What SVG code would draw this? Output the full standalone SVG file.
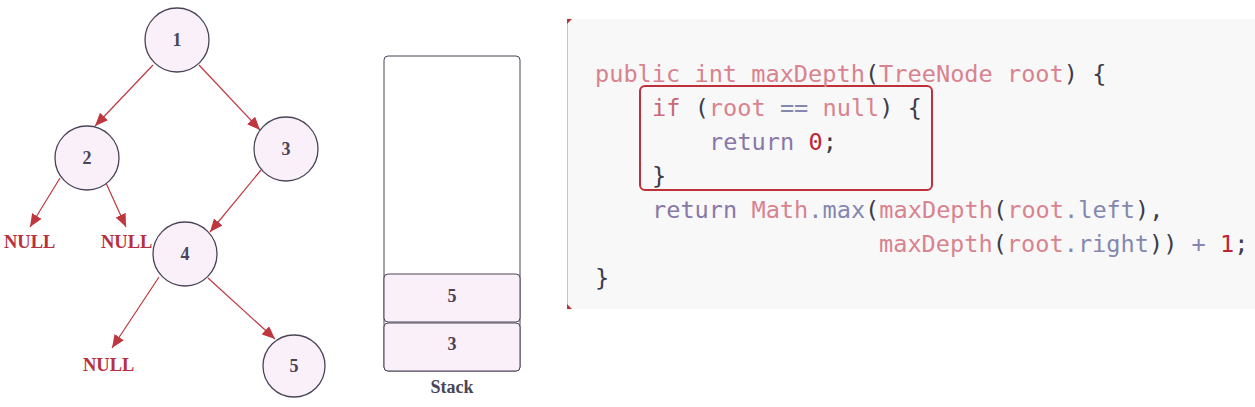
<svg xmlns="http://www.w3.org/2000/svg" width="1255" height="407" viewBox="0 0 1255 407">
<style>
  .node circle { fill: #faf0fa; stroke: #4a4458; stroke-width: 1.3; }
  .lbl { font-family: "Liberation Serif", serif; font-weight: bold; font-size: 18px; fill: #4a4458; text-anchor: middle; }
  .null { font-family: "Liberation Serif", serif; font-weight: bold; font-size: 18.5px; fill: #b8303e; }
  .edge { stroke: #c0363f; stroke-width: 1.2; fill: none; marker-end: url(#arr); }
  .cell { fill: #faf0fa; stroke: #4a4458; stroke-width: 1; }
  .code { font-family: "DejaVu Sans Mono", "Liberation Mono", monospace; font-size: 23.6px; fill: #404050; }
  .k { fill: #d8838f; }
  .kw { fill: #c86878; }
  .v { fill: #8878a8; }
  .o { fill: #8488b0; }
  .n { fill: #c02434; }
  .p { fill: #3c3c4c; }
</style>
<defs>
  <marker id="arr" markerUnits="userSpaceOnUse" markerWidth="13" markerHeight="11" refX="13" refY="5.5" orient="auto">
    <path d="M0,0 L13,5.5 L0,11 z" fill="#c0363f"/>
  </marker>
</defs>
<rect width="1255" height="407" fill="#ffffff"/>

<g id="connectors">
  <line class="edge" x1="153" y1="65" x2="95" y2="126"/>
  <line class="edge" x1="199" y1="65" x2="260" y2="130"/>
  <line class="edge" x1="60" y1="178" x2="30" y2="227"/>
  <line class="edge" x1="106" y1="183" x2="126" y2="227"/>
  <line class="edge" x1="261" y1="170" x2="210" y2="232"/>
  <line class="edge" x1="159" y1="277" x2="112" y2="348"/>
  <line class="edge" x1="208" y1="278" x2="275" y2="339"/>
</g>

<g id="node1" class="node"><circle cx="177" cy="40" r="32"/><text class="lbl" x="177" y="46">1</text></g>
<g id="node2" class="node"><circle cx="87" cy="158" r="32"/><text class="lbl" x="87" y="164">2</text></g>
<g id="node3" class="node"><circle cx="286" cy="149" r="32"/><text class="lbl" x="286" y="155">3</text></g>
<g id="node4" class="node"><circle cx="185" cy="254" r="32"/><text class="lbl" x="185" y="260">4</text></g>
<g id="node5" class="node"><circle cx="294" cy="366" r="31"/><text class="lbl" x="294" y="372">5</text></g>
<g id="null1"><text class="null" x="4" y="248">NULL</text></g>
<g id="null2"><text class="null" x="101" y="248">NULL</text></g>
<g id="null3"><text class="null" x="83" y="371">NULL</text></g>

<g id="stack">
  <rect x="384" y="56" width="136" height="315" rx="4" fill="#ffffff" stroke="#4a4458" stroke-width="1"/>
  <rect class="cell" x="384" y="274" width="136" height="48" rx="4"/>
  <rect class="cell" x="384" y="323" width="136" height="48" rx="4"/>
  <text class="lbl" x="452" y="302">5</text>
  <text class="lbl" x="452" y="350">3</text>
  <text class="lbl" x="452" y="393">Stack</text>
</g>

<g id="code">
  <rect x="567" y="19" width="688" height="290" fill="#f9f8f8"/>
  <line x1="567.5" y1="19" x2="567.5" y2="309" stroke="#e8b4bc" stroke-width="1"/>
  <path d="M567,19 L572,19 L567,24 z" fill="#c0303a"/>
  <path d="M567,309 L572,309 L567,304 z" fill="#c0303a"/>
  <rect x="640" y="86" width="292" height="104" rx="5" fill="none" stroke="#c0303a" stroke-width="2"/>
  <text class="code" xml:space="preserve" x="595" y="82"><tspan class="k">public int maxDepth</tspan><tspan class="p">(</tspan><tspan class="k">TreeNode root</tspan><tspan class="p">) {</tspan></text>
  <text class="code" xml:space="preserve" x="652" y="116"><tspan class="kw">if</tspan><tspan class="p"> (</tspan><tspan class="k">root</tspan><tspan class="o"> ==</tspan><tspan class="k"> null</tspan><tspan class="p">) {</tspan></text>
  <text class="code" xml:space="preserve" x="709" y="150"><tspan class="v">return </tspan><tspan class="n">0</tspan><tspan class="p">;</tspan></text>
  <text class="code" xml:space="preserve" x="652" y="184"><tspan class="p">}</tspan></text>
  <text class="code" xml:space="preserve" x="652" y="218"><tspan class="v">return </tspan><tspan class="k">Math</tspan><tspan class="o">.max</tspan><tspan class="p">(</tspan><tspan class="k">maxDepth</tspan><tspan class="p">(</tspan><tspan class="k">root</tspan><tspan class="o">.left</tspan><tspan class="p">),</tspan></text>
  <text class="code" xml:space="preserve" x="879" y="252"><tspan class="k">maxDepth</tspan><tspan class="p">(</tspan><tspan class="k">root</tspan><tspan class="o">.right</tspan><tspan class="p">))</tspan><tspan class="o"> +</tspan><tspan class="n"> 1</tspan><tspan class="p">;</tspan></text>
  <text class="code" xml:space="preserve" x="595" y="286"><tspan class="p">}</tspan></text>
</g>
</svg>
